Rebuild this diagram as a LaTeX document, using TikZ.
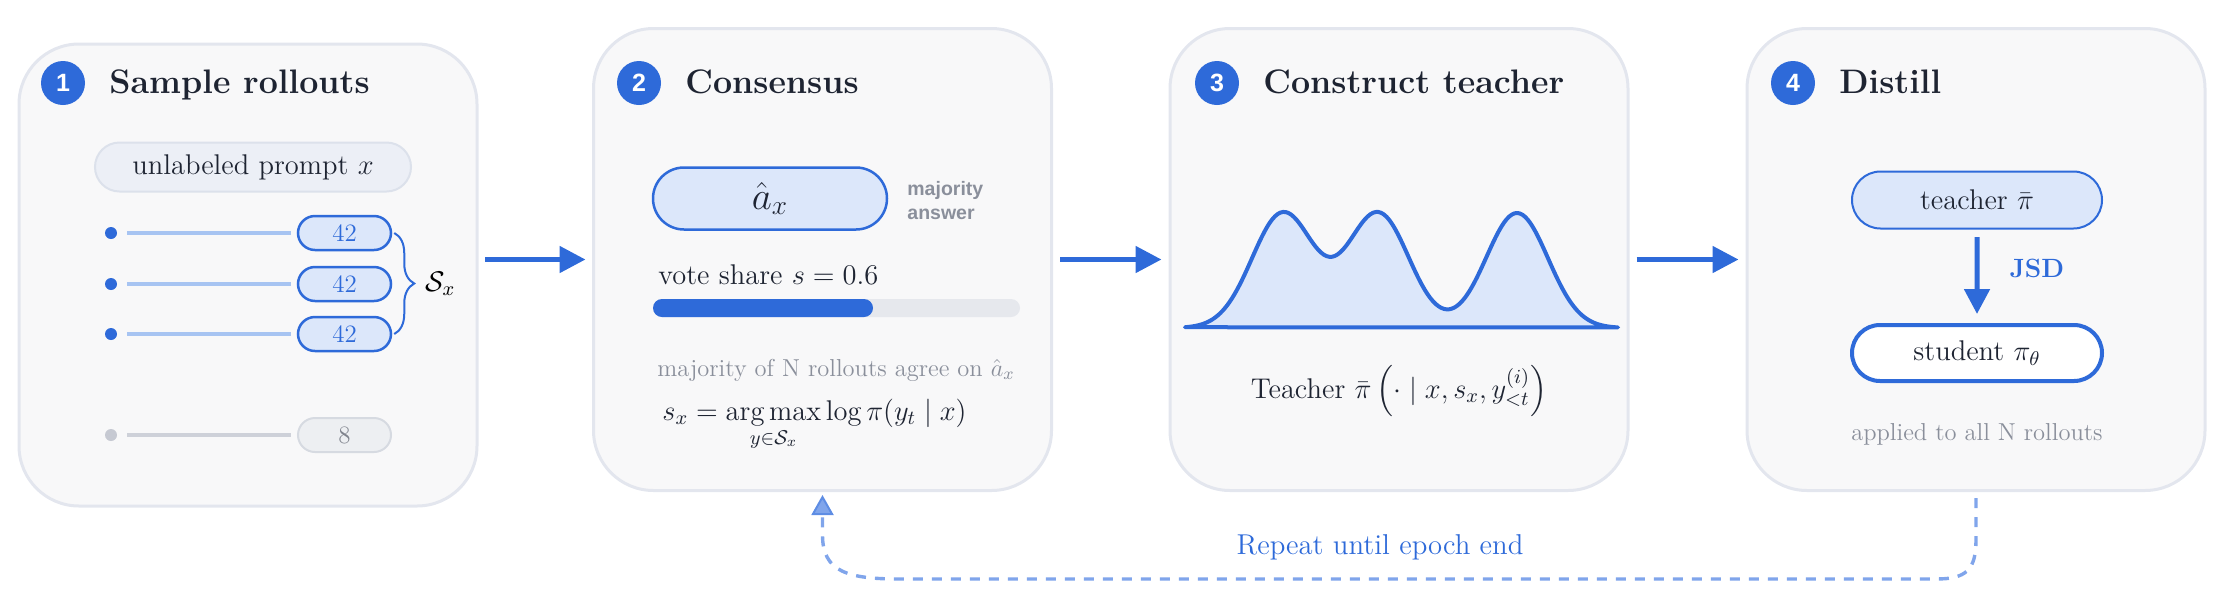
\RequirePackage{fix-cm}
\documentclass[tikz,border=0pt]{standalone}
\usepackage{amsmath,amssymb}
\usepackage{fontspec}
\newfontfamily\labelsans{Liberation Sans}
\usetikzlibrary{arrows.meta,positioning,shapes.misc,decorations.pathreplacing}
\definecolor{flowblue}{HTML}{2E6AD9}
\definecolor{softblue}{HTML}{DCE7FA}
\definecolor{rollblue}{HTML}{A7C4F2}
\definecolor{loopblue}{HTML}{80A5EB}
\definecolor{tipblue}{HTML}{5E8DE4}
\definecolor{panelbg}{HTML}{F8F8F9}
\definecolor{panelrim}{HTML}{E3E6EE}
\definecolor{inkdark}{HTML}{1E2432}
\definecolor{mutedgray}{HTML}{8A8F9B}
\definecolor{promptbg}{HTML}{ECEFF6}
\definecolor{promptrim}{HTML}{DCE1EB}
\definecolor{trackgray}{HTML}{E6E8ED}
\definecolor{dotgray}{HTML}{C6C9D2}
\definecolor{linegray}{HTML}{CED1D9}
\definecolor{pillgray}{HTML}{EDEFF2}
\definecolor{pillrim}{HTML}{D6DAE1}
\definecolor{numgray}{HTML}{80848E}

\begin{document}
\begin{tikzpicture}[
    x=0.5pt, y=-0.5pt,
    panel/.style={draw=panelrim, fill=panelbg, line width=1.5pt, rounded corners=30pt,
                  minimum width=229pt, minimum height=231pt, inner sep=0pt},
    badge/.style={circle, fill=flowblue, text=white, minimum size=22pt, inner sep=0pt,
                  font=\labelsans\bfseries\fontsize{12.5}{13}\selectfont},
    title/.style={anchor=base west, inner sep=0pt, text=inkdark,
                  font=\bfseries\fontsize{17}{20}\selectfont},
    body/.style={inner sep=0pt, text=inkdark, font=\fontsize{14.25}{17}\selectfont},
    note/.style={inner sep=0pt, text=mutedgray, font=\fontsize{12.25}{15}\selectfont},
    side/.style={anchor=west, align=left, inner sep=0pt, text=mutedgray,
                 font=\labelsans\bfseries\fontsize{9.75}{12}\selectfont},
    pill/.style={rounded rectangle, draw=flowblue, fill=softblue, line width=1.25pt,
                 inner sep=0pt, text=inkdark, font=\fontsize{14.25}{17}\selectfont},
    prompt/.style={pill, draw=promptrim, fill=promptbg, line width=1pt},
    ans/.style={pill, minimum width=46.5pt, minimum height=17pt, text=flowblue,
                font=\fontsize{12.5}{14}\selectfont},
    grayans/.style={ans, draw=pillrim, fill=pillgray, line width=1pt, text=numgray},
    dot/.style={circle, fill=flowblue, minimum size=6pt, inner sep=0pt},
    roll/.style={draw=rollblue, line width=2pt, shorten <=5pt, shorten >=3pt},
    flow/.style={-{Triangle[length=13pt,width=13pt]}, draw=flowblue, line width=2.5pt},
    curve/.style={draw=flowblue, fill=softblue, line width=2pt, line join=round, line cap=round},
    jsd/.style={inner sep=0pt, text=flowblue, font=\bfseries\fontsize{13.2}{15}\selectfont},
    loopline/.style={draw=loopblue, line width=1.7pt, dash pattern=on 5pt off 4.5pt,
                     -{Triangle[length=10pt,width=11pt,color=tipblue,fill=loopblue,line width=1pt]}},
    looptext/.style={inner sep=0pt, text=flowblue, font=\fontsize{14.35}{17}\selectfont},
]
\useasboundingbox (0,0) rectangle (2235,601);

% the four stages
\node[panel] (p1) at (248,275) {};
\node[panel] (p2) at (822.5,259.5) {};
\node[panel] (p3) at (1399,259.5) {};
\node[panel] (p4) at (1976,259.5) {};

\node[badge] (b1) at (63,83) {1};
\node[title] (t1) at ([shift={(23pt,-5.25pt)}]b1.center) {Sample rollouts};
\node[badge] (b2) at (639,83) {2};
\node[title] (t2) at ([shift={(23pt,-5.25pt)}]b2.center) {Consensus};
\node[badge] (b3) at (1217,83) {3};
\node[title] (t3) at ([shift={(23pt,-5.25pt)}]b3.center) {Construct teacher};
\node[badge] (b4) at (1793,83) {4};
\node[title] (t4) at ([shift={(23pt,-5.25pt)}]b4.center) {Distill};

% 1: rollouts
\node[prompt, minimum width=158pt, minimum height=24.5pt] (px) at (253,167) {unlabeled prompt $x$};
\foreach \n/\y in {1/233,2/284,3/334}{
  \node[dot] (d\n) at (111,\y) {};
  \node[ans] (a\n) at (344.5,\y) {42};
  \draw[roll] (d\n) -- (a\n);
}
\node[dot, fill=dotgray] (d4) at (111,435) {};
\node[grayans] (a4) at (344.5,435) {8};
\draw[roll, draw=linegray] (d4) -- (a4);
\draw[flowblue, line width=1pt, decorate, decoration={brace, amplitude=10pt}]
  ([xshift=1pt]a1.east) -- ([xshift=1pt]a3.east)
  node[midway, right=15pt, inner sep=0pt, text=black, font=\fontsize{14.25}{17}\selectfont] (sx) {$\mathcal{S}_x$};

% 2: consensus
\node[pill, minimum width=117pt, minimum height=31pt, font=\fontsize{19.5}{22}\selectfont] (ax) at (770,198.5) {$\hat a_x$};
\node[side] (maj) at (907,201) {majority\\answer};
\node[body, anchor=base west] (vs) at (658,284) {vote share $s=0.6$};
\fill[trackgray, rounded corners=4.5pt] (653,299) rectangle (1020,317);
\fill[flowblue, rounded corners=4.5pt] (653,299) rectangle (873,317);
\node[note, anchor=base west] (agree) at (657,376) {majority of N rollouts agree on $\hat a_x$};
\node[body, anchor=base west] (argm) at (662,420)
  {$s_x = \mathop{\mathrm{arg\,max}}\limits_{y\in\mathcal{S}_x} \log \pi(y_t \mid x)$};

% 3: teacher
\filldraw[curve] plot[domain=1185:1618, samples=160, smooth]
  (\x, {328-115*(exp(-0.5*((\x-1283)/31)*((\x-1283)/31))
                +exp(-0.5*((\x-1378)/31)*((\x-1378)/31))
                +exp(-0.5*((\x-1517)/31)*((\x-1517)/31)))}) -- cycle;
\node[body] (tf) at (1399,391) {Teacher $\bar\pi\left(\cdot \mid x, s_x, y^{(i)}_{<t}\right)$};

% 4: distill
\node[pill, minimum width=125pt, minimum height=28.5pt, line width=1pt] (tch) at (1977,200) {teacher $\bar\pi$};
\node[pill, fill=white, line width=2pt, minimum width=125pt, minimum height=28pt,
      below=46.75pt of tch] (stu) {student $\pi_\theta$};
\draw[flow, -{Triangle[length=12.5pt,width=12.5pt]}, shorten <=3.75pt, shorten >=4.5pt]
  (tch) -- node[pos=0.42, right=15pt, jsd] {JSD} (stu);
\node[note, below=20pt of stu] (all) {applied to all N rollouts};

% stage arrows
\draw[flow, shorten <=3.25pt, shorten >=3.25pt] (p1.east |- p2.west) -- (p2.west);
\draw[flow, shorten <=3.5pt, shorten >=3.5pt] (p2.east) -- (p3.west);
\draw[flow, shorten <=3.5pt, shorten >=3.5pt] (p3.east) -- (p4.west);

% loop back
\coordinate (lpR) at (1936,579);
\coordinate (lpL) at (900,579);
\draw[loopline, shorten <=3pt, shorten >=1.5pt] (p4.south) -- (1976,540)
  .. controls (1976,570) and (1966,579) .. (lpR) -- (lpL)
  .. controls (848,579) and (822.5,572) .. (822.5,535) -- (p2.south);
\node[looptext] (rep) at (1380,547) {Repeat until epoch end};
\end{tikzpicture}
\end{document}
